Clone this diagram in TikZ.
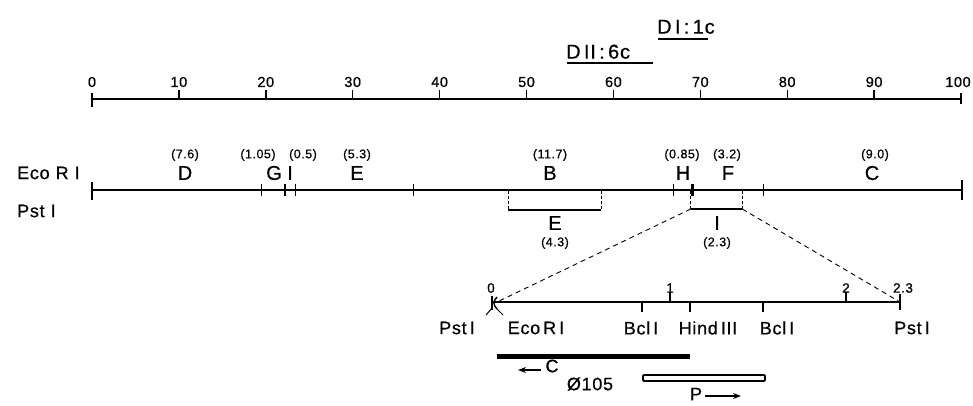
\documentclass[tikz,border=0pt]{standalone}
\usepackage{fontspec}
\setmainfont{Liberation Sans}[LetterSpace=4, FakeBold=0.6]
\usetikzlibrary{arrows.meta}

\begin{document}
\begin{tikzpicture}[x=1pt,y=-1pt,
  axis/.style={line width=2.2pt},
  tk/.style={line width=1.4pt},
  num/.style={font=\fontsize{14.5}{14.5}\selectfont, inner sep=0pt},
  smallnum/.style={font=\fontsize{13.5}{13.5}\selectfont, inner sep=0pt},
  frag/.style={font=\fontsize{20}{20}\selectfont, inner sep=0pt},
  fsize/.style={font=\fontsize{12.5}{12.5}\selectfont, inner sep=0pt},
  enz/.style={font=\fontsize{18}{18}\selectfont, inner sep=0pt},
  site/.style={font=\fontsize{18}{18}\selectfont, inner sep=0pt},
  dlabel/.style={font=\fontsize{20}{20}\selectfont, inner sep=0pt},
  guide/.style={line width=0.9pt, dash pattern=on 5pt off 4pt},
  ]
\useasboundingbox (0,0) rectangle (973,405);

% ---------------- deletion markers ----------------
\node[dlabel, anchor=south west] (dtwo) at (566,59) {D\,II\,:\,6c};
\draw[line width=1.8pt] (567,63) coordinate (dtwoa) -- (653,63) coordinate (dtwob);
\node[dlabel, anchor=south west] (done) at (657,34) {D\,I\,:\,1c};
\draw[line width=1.8pt] (658,39) coordinate (donea) -- (708,39) coordinate (doneb);

% ---------------- map-unit scale 0..100 ----------------
\coordinate (s0) at (92,99);
\coordinate (s100) at (961,99);
\draw[axis] (s0) -- (s100);
\draw[tk] (92,93) -- (92,107);
\draw[tk] (961,93) -- (961,104);
\node[num] (n0) at (92,82) {0};
\foreach \k in {1,...,9}{
  \pgfmathtruncatemacro{\lab}{10*\k}
  \draw[tk] ({92+86.9*\k},99) -- ++(0,-9);
  \node[num] (n\lab) at ({92+86.9*\k},82) {\lab};
}
\node[num] (n100) at (958,82) {100};

% ---------------- EcoRI / PstI physical map ----------------
\node[enz, anchor=west] (ecori) at (17,173) {Eco\,\,R\,\,I};
\node[enz, anchor=west] (psti) at (17,211) {Pst\,\,I};

\coordinate (e0) at (92,190);
\coordinate (e1) at (962,190);
\draw[axis] (e0) -- (e1);
\draw[tk] (92,182) -- (92,200);
\draw[tk] (962,180) -- (962,200);
\foreach \x in {261.7,285,295.7,413.3,673.3,763.3}
  \draw[tk] (\x,184) -- (\x,196);
\draw[line width=3pt] (692.3,184) -- (692.3,196);

% fragment names
\foreach \x/\n/\id in {185/D/d, 274/G/g, 290/I/i, 357/E/e,
    550/B/b, 683/H/h, 728/F/f, 872/C/c}{
  \node[frag] (fr\id) at (\x,173) {\n};
}
% fragment sizes
\node[fsize] (szd) at (185,155) {(7.6)};
\node[fsize] (szg) at (258,155) {(1.05)};
\node[fsize] (szi) at (303,155) {(0.5)};
\node[fsize] (sze) at (357,155) {(5.3)};
\node[fsize] (szb) at (550,155) {(11.7)};
\node[fsize] (szh) at (682,155) {(0.85)};
\node[fsize] (szf) at (727,155) {(3.2)};
\node[fsize] (szc) at (875,155) {(9.0)};

% PstI fragment E
\coordinate (pe1) at (508,210);
\coordinate (pe2) at (601,210);
\draw[line width=0.9pt, dash pattern=on 3pt off 2pt] (508,191) -- (pe1);
\draw[line width=0.9pt, dash pattern=on 3pt off 2pt] (601,191) -- (pe2);
\draw[line width=1.8pt] (pe1) -- (pe2);
\node[frag] (pfe) at (555,223) {E};
\node[fsize] (pse) at (555,243) {(4.3)};

% PstI fragment I
\coordinate (pi1) at (690.7,209);
\coordinate (pi2) at (742.3,209);
\draw[line width=0.9pt, dash pattern=on 3pt off 2pt] (690.7,191) -- (pi1);
\draw[line width=0.9pt, dash pattern=on 3pt off 2pt] (742.3,191) -- (pi2);
\draw[line width=1.8pt] (pi1) -- (pi2);
\node[frag] (pfi) at (717,223) {I};
\node[fsize] (psi) at (717,243) {(2.3)};

% ---------------- expanded PstI-I fragment ----------------
\coordinate (m0) at (492,302);
\coordinate (m23) at (900,302);
\draw[axis] (m0) -- (m23);
\draw[tk] (492,296) -- (492,310);
\draw[tk] (900,294) -- (900,310);
\draw[tk] (497,297) .. controls (493,301) and (493,305) .. (497,309);
\draw[line width=1pt] (492,308) -- (486,315);
\draw[line width=1pt] (497,309) -- (503,315);
\draw[tk] (670,302) -- (670,292);
\draw[tk] (846,302) -- (846,292);
\foreach \x in {642,690,763}
  \draw[tk] (\x,302) -- (\x,312);

\node[smallnum] (k0) at (491,288) {0};
\node[smallnum] (k1) at (670,288) {1};
\node[smallnum] (k2) at (846,288) {2};
\node[smallnum] (k23) at (903,288) {2.3};

% zoom-in guides
\draw[guide] (pi1) -- (497,302);
\draw[guide] (pi2) -- (m23);

% site labels
\node[site] (sp1) at (457,328) {Pst\,I};
\node[site] (se1) at (536,328) {Eco\,R\,I};
\node[site] (sb1) at (641,328) {Bcl\,I};
\node[site] (sh1) at (708,328) {Hind\,III};
\node[site] (sb2) at (777,328) {Bcl\,I};
\node[site] (sp2) at (912,328) {Pst\,I};

% transcripts
\coordinate (cbar1) at (497,356);
\coordinate (cbar2) at (690,356);
\draw[line width=5pt] (cbar1) -- (cbar2);
\coordinate (ca1) at (541,370);
\coordinate (ca2) at (518,370);
\draw[line width=1.5pt, -{Stealth[length=8pt,width=6pt]}] (ca1) -- (ca2);
\node[site] (clab) at (552,366) {C};
\node[site] (phi) at (590,384) {Ø105};

\draw[line width=1.8pt, rounded corners=1pt] (643,375) rectangle (765,381);
\node[site] (plab) at (696,394) {P};
\coordinate (pa1) at (705,396);
\coordinate (pa2) at (741,396);
\draw[line width=1.5pt, -{Stealth[length=8pt,width=6pt]}] (pa1) -- (pa2);

\end{tikzpicture}
\end{document}
